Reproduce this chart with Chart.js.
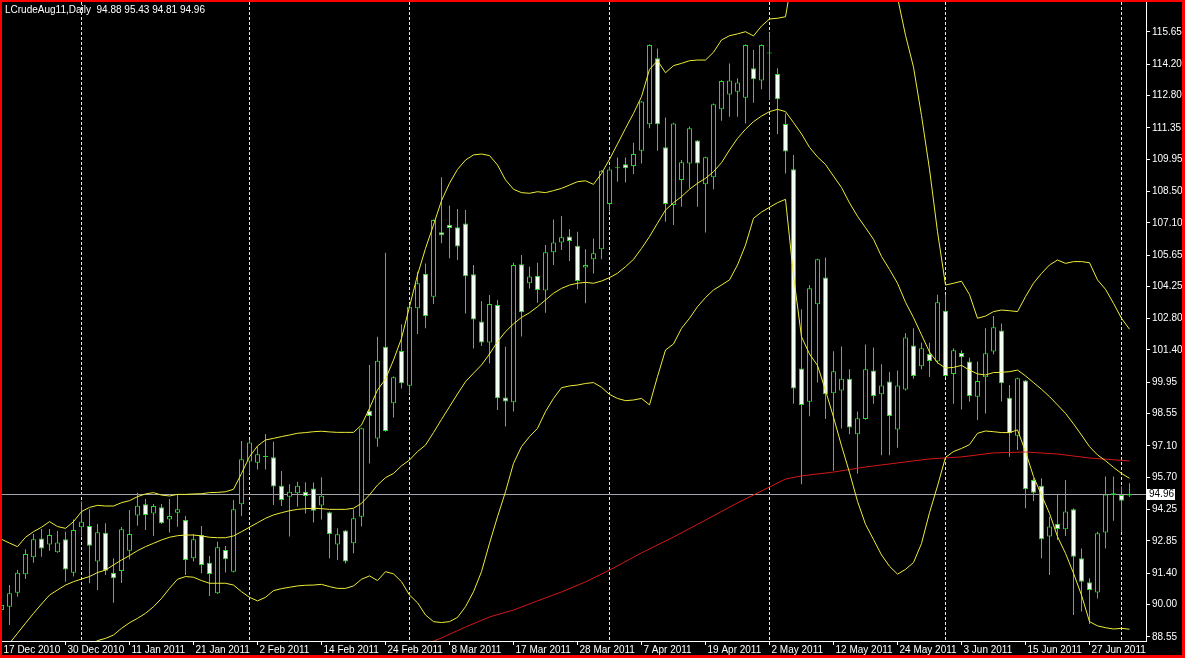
<!DOCTYPE html>
<html><head><meta charset="utf-8">
<script src="https://cdn.jsdelivr.net/npm/chart.js@4.4.1/dist/chart.umd.min.js"></script>
<style>
html,body{margin:0;padding:0;background:#000;overflow:hidden;}
canvas{display:block;}
</style></head><body>
<canvas id="c" width="1185" height="658"></canvas>
<script>
const symbolTitle = 'LCrudeAug11,Daily';

const open = [89.75,89.90,90.53,91.35,92.11,92.96,92.69,92.34,92.92,91.42,
93.46,93.52,91.92,93.21,91.42,91.50,92.41,93.98,94.49,94.08,
94.35,93.81,94.11,93.78,92.07,93.11,91.87,90.50,92.44,91.47,
94.49,96.40,96.35,96.61,96.59,95.32,94.83,94.98,95.05,95.20,
94.43,94.13,92.69,93.31,92.74,93.93,98.68,97.44,101.55,99.01,
101.36,99.80,103.27,104.81,103.79,106.67,107.01,106.90,107.07,104.79,
102.68,101.74,103.42,99.27,99.06,105.24,104.39,104.72,104.06,105.78,
106.22,106.48,106.07,105.10,105.46,105.91,107.94,109.54,109.72,109.64,
110.33,111.51,114.47,110.48,107.90,109.02,109.76,110.78,108.82,109.14,
112.18,112.85,112.97,112.70,114.02,113.47,114.68,113.77,111.53,109.50,
100.57,99.08,103.45,104.65,99.46,99.59,100.11,97.62,98.31,100.48,
99.42,99.99,97.84,99.63,101.60,100.67,101.22,100.88,103.16,100.33,
101.27,100.88,99.31,100.18,101.33,102.27,99.26,97.56,100.03,95.58,
95.32,93.04,93.61,93.37,94.26,92.07,90.99,90.54,93.22,94.98,
94.90,94.88];

const high = [90.05,90.87,91.54,92.47,93.16,93.38,93.38,93.29,93.26,93.81,
94.61,94.26,93.60,93.64,92.07,93.47,94.23,95.01,94.72,94.50,
94.50,94.72,94.95,93.96,93.16,93.52,92.17,92.81,92.62,94.68,
97.32,97.37,97.07,97.64,97.29,95.98,95.38,95.50,95.47,95.46,
95.70,94.16,93.41,93.34,94.26,97.92,100.73,101.99,105.76,100.21,
102.55,103.37,104.91,105.28,107.25,109.14,107.87,107.72,107.67,105.21,
103.60,103.86,103.64,101.55,105.31,105.66,105.13,105.31,106.10,107.25,
107.40,106.82,106.70,105.91,106.40,109.46,109.61,110.02,110.02,110.69,
112.56,115.09,114.91,111.82,111.58,109.91,111.41,110.81,110.06,112.44,
113.48,114.24,113.57,115.09,114.84,115.09,115.62,114.02,112.00,110.14,
103.23,104.31,105.49,105.54,101.34,101.56,100.54,98.65,101.65,101.51,
100.76,100.41,100.48,102.16,102.37,101.73,101.73,103.88,103.88,101.48,
101.39,101.05,100.88,102.37,102.92,102.59,99.83,100.16,100.06,95.65,
95.65,93.93,94.93,95.58,94.31,92.51,91.17,93.26,95.73,95.73,
95.28,95.43];

const low = [89.68,89.08,90.35,91.14,91.87,92.14,92.41,92.32,91.02,91.25,
93.04,90.95,90.65,91.32,90.08,90.96,92.02,93.53,93.34,93.07,
93.61,93.22,93.48,91.32,91.92,91.40,90.38,90.47,91.43,91.44,
93.96,95.88,96.05,96.05,94.46,94.41,93.04,94.38,94.08,93.67,
93.81,92.07,91.99,91.84,92.29,93.49,96.32,97.07,97.74,98.38,
99.68,99.46,102.12,102.37,103.46,106.18,105.51,105.43,103.04,101.47,
101.58,100.80,98.71,97.97,98.64,102.00,104.16,103.52,103.07,105.21,
105.88,105.39,104.12,103.49,104.83,105.46,107.60,108.94,108.90,109.28,
109.76,111.33,110.33,107.15,107.00,107.82,108.64,107.82,106.66,108.60,
111.67,111.85,111.85,111.55,112.48,113.08,112.60,111.08,109.31,98.99,
95.39,98.43,99.94,98.31,95.99,97.88,97.62,95.86,98.27,98.99,
96.68,96.68,97.02,99.59,100.11,100.54,100.19,100.79,100.19,98.99,
98.73,99.08,98.26,98.56,101.21,99.09,96.62,96.92,94.31,94.63,
92.07,91.32,92.89,93.07,89.53,89.68,89.13,90.27,92.51,93.75,
93.26,94.81];

const close = [89.98,90.50,91.42,92.26,92.92,92.51,93.11,92.78,91.57,93.34,
93.71,92.63,93.24,91.51,91.17,93.37,93.16,94.42,94.01,94.41,
93.64,93.96,94.26,91.99,92.92,91.77,91.37,92.56,92.02,94.26,
96.50,97.26,96.73,96.64,95.28,94.68,95.05,95.32,94.86,94.20,
94.87,93.16,93.14,91.92,93.86,97.89,98.44,100.92,97.77,100.18,
99.91,103.34,104.39,102.92,107.22,106.54,106.87,106.04,104.70,102.77,
101.74,103.46,99.24,99.09,105.21,103.09,104.69,104.09,105.78,106.22,
106.45,106.28,104.49,105.21,105.73,109.43,109.49,109.57,109.54,110.18,
112.53,115.06,111.51,107.94,111.55,109.81,111.33,109.76,110.03,112.41,
113.45,113.47,113.38,115.06,113.53,115.06,114.71,112.63,110.29,99.68,
98.94,104.17,105.46,99.42,100.45,100.11,97.93,98.34,100.54,99.34,
99.81,98.44,99.81,101.96,100.24,101.48,100.91,103.54,100.24,101.39,
101.08,99.34,100.01,101.25,102.42,99.91,97.67,100.13,95.16,95.01,
92.92,93.49,93.38,94.16,92.14,91.02,90.65,93.19,94.93,94.90,
94.65,94.96];

const bbUpper = [92.92,92.75,92.59,93.01,93.26,93.46,93.71,93.49,93.41,93.71,
94.16,94.35,94.44,94.41,94.41,94.56,94.65,94.83,94.95,95.01,
94.90,94.86,94.93,94.93,94.95,94.96,95.01,95.02,95.05,95.16,
95.87,96.62,97.10,97.37,97.44,97.52,97.59,97.67,97.70,97.74,
97.76,97.73,97.71,97.71,97.71,98.04,98.79,99.61,100.10,100.95,
101.92,103.34,104.76,105.95,107.00,108.09,108.87,109.49,109.91,110.14,
110.18,110.11,109.69,109.02,108.60,108.45,108.42,108.49,108.45,108.54,
108.64,108.79,108.94,108.98,108.82,109.31,109.94,110.63,111.33,112.00,
112.75,113.97,114.36,113.82,114.14,114.24,114.36,114.39,114.39,114.74,
115.29,115.48,115.56,115.66,115.47,115.91,116.23,116.26,116.33,118.4,
120.2,119.7,119.4,119.8,120.0,120.3,120.1,120.2,120.2,119.8,
119.0,118.3,117.2,115.5,114.07,111.9,109.5,106.7,104.31,104.39,
104.48,103.88,102.82,102.92,103.12,103.19,103.16,103.12,103.79,104.39,
104.83,105.21,105.43,105.28,105.36,105.36,105.31,104.54,104.12,103.49,
102.82,102.33];

const bbMiddle = [87.95,88.26,88.71,89.16,89.60,90.02,90.42,90.65,90.87,91.02,
91.14,91.25,91.43,91.54,91.77,91.99,92.19,92.41,92.59,92.74,
92.89,93.01,93.08,93.11,93.11,93.07,93.01,92.99,92.99,93.07,
93.26,93.46,93.66,93.86,94.01,94.11,94.20,94.26,94.29,94.31,
94.29,94.26,94.26,94.26,94.31,94.53,94.91,95.35,95.68,95.87,
96.21,96.47,96.85,97.14,97.70,98.29,98.86,99.43,99.98,100.36,
100.73,101.22,101.77,102.22,102.57,102.86,103.07,103.34,103.64,103.94,
104.16,104.31,104.39,104.43,104.39,104.49,104.64,104.84,105.13,105.46,
105.95,106.48,107.08,107.67,108.00,108.27,108.60,108.87,109.09,109.39,
109.79,110.36,110.88,111.29,111.63,111.88,112.08,112.18,112.08,111.59,
111.08,110.48,110.05,109.71,109.19,108.68,107.99,107.39,106.88,106.36,
105.59,105.01,104.39,103.54,102.85,102.08,101.31,100.83,100.59,100.62,
100.71,100.50,100.33,100.28,100.39,100.40,100.43,100.50,100.24,99.94,
99.64,99.31,98.94,98.56,98.09,97.59,97.07,96.70,96.44,96.14,
95.87,95.65];

const bbLower = [null,null,null,null,null,null,null,null,null,null,
null,88.15,88.38,88.48,88.63,88.93,89.18,89.38,89.60,89.90,
90.27,90.72,91.13,91.25,91.22,91.07,90.95,90.95,90.95,90.87,
90.57,90.32,90.16,90.32,90.62,90.71,90.77,90.83,90.86,90.87,
90.90,90.80,90.72,90.72,90.83,91.13,91.28,91.07,91.47,91.37,
91.02,90.42,90.08,89.53,89.23,89.19,89.23,89.42,89.90,90.57,
91.47,92.74,93.93,95.05,96.32,97.07,97.52,97.89,98.64,99.23,
99.71,99.79,99.83,99.90,99.94,99.73,99.41,99.23,99.13,99.16,
99.23,98.94,100.21,101.40,101.67,102.37,102.82,103.34,103.75,104.09,
104.31,104.54,105.21,106.10,107.30,107.58,107.79,108.00,108.15,104.74,
101.99,101.22,100.71,99.59,98.39,97.11,95.91,94.62,93.59,92.91,
92.22,91.71,91.36,91.57,91.88,92.73,94.11,95.31,96.59,96.85,
96.99,97.16,97.67,97.77,97.74,97.70,97.70,97.82,96.85,95.73,
94.90,94.08,93.04,92.29,91.40,90.42,89.23,89.04,88.96,88.90,
88.93,88.89];

const maBars   = [54,55,58,61,64,67,70,73,76,80,84,88,92,96,98,100,104,108,112,116,120,124,128,132,136,141];
const maValues = [88.36,88.50,88.99,89.44,89.75,90.16,90.56,91.01,91.54,92.31,93.02,93.78,94.55,95.26,95.62,95.76,95.93,96.16,96.34,96.52,96.61,96.79,96.83,96.74,96.56,96.43];

const xTickBars = [0,8,16,24,32,40,48,56,64,72,80,88,96,104,112,120,128,136];
const xTickLabels = ['17 Dec 2010','30 Dec 2010','11 Jan 2011','21 Jan 2011','2 Feb 2011','14 Feb 2011','24 Feb 2011','8 Mar 2011','17 Mar 2011','28 Mar 2011','7 Apr 2011','19 Apr 2011','2 May 2011','12 May 2011','24 May 2011','3 Jun 2011','15 Jun 2011','27 Jun 2011'];
const yTickValues = [115.65,114.20,112.80,111.35,109.95,108.50,107.10,105.65,104.25,102.80,101.40,99.95,98.55,97.10,95.70,94.25,92.85,91.40,90.00,88.55];
const gridBars = [10,31,51,76,96,118,140];

const GREEN = '#22dc22';
const YELLOW = '#ecec3c';
const RED = '#d01818';
const FONT = '"Liberation Sans", Arial, sans-serif';

const idx = close.map((_, i) => i);
const bull = idx.map(i => close[i] >= open[i]);
const last = close.length - 1;

const mtPlugin = {
  id: 'mt',
  beforeDraw(chart) {
    const c = chart.ctx;
    c.save(); c.fillStyle = '#000'; c.fillRect(0, 0, chart.width, chart.height); c.restore();
  },
  beforeDatasetsDraw(chart) {
    const {ctx, chartArea: a, scales: {x, y}} = chart;
    ctx.save();
    ctx.beginPath(); ctx.rect(a.left, a.top, a.right - a.left, a.bottom - a.top); ctx.clip();
    ctx.strokeStyle = '#e6e6e6'; ctx.lineWidth = 1; ctx.setLineDash([3, 2]);
    gridBars.forEach(b => {
      const px = x.getPixelForValue(b);
      ctx.beginPath(); ctx.moveTo(px, a.top); ctx.lineTo(px, a.bottom); ctx.stroke();
    });
    ctx.setLineDash([]);
    const py = Math.round(y.getPixelForValue(close[last])) + 0.5;
    ctx.strokeStyle = '#a4a4ac';
    ctx.beginPath(); ctx.moveTo(a.left, py); ctx.lineTo(a.right, py); ctx.stroke();
    ctx.restore();
  },
  afterDraw(chart) {
    const {ctx, scales: {y}, width: W, height: H} = chart;
    ctx.save();
    ctx.font = '10px ' + FONT;
    ctx.textBaseline = 'middle'; ctx.textAlign = 'left';
    ctx.fillStyle = '#ffffff';
    const ttl = symbolTitle + '  ' + [open[last], high[last], low[last], close[last]].map(v => v.toFixed(2)).join(' ');
    ctx.fillText(ttl, 5, 10);
    const ty = Math.round(y.getPixelForValue(close[last]));
    ctx.fillStyle = '#ffffff';
    ctx.fillRect(1147, ty - 5, 28, 11);
    ctx.fillStyle = '#000000';
    ctx.fillText(close[last].toFixed(2), 1149, ty + 0.5);
    ctx.fillStyle = '#ff0000';
    ctx.fillRect(0, 0, W, 2);
    ctx.fillRect(0, 0, 2, H);
    ctx.fillRect(W - 3, 0, 3, H);
    ctx.fillRect(0, H - 3, W, 3);
    ctx.restore();
  }
};

const lineDs = (label, data, color, order) => ({
  type: 'line', label, data, borderColor: color, borderWidth: 1,
  pointRadius: 0, tension: 0, fill: false, order, spanGaps: false
});

new Chart(document.getElementById('c'), {
  type: 'bar',
  data: {
    datasets: [
      lineDs('Upper', bbUpper.map((v, i) => ({x: i, y: v})), YELLOW, 0),
      lineDs('Middle', bbMiddle.map((v, i) => ({x: i, y: v})), YELLOW, 0),
      lineDs('Lower', bbLower.map((v, i) => ({x: i, y: v})), YELLOW, 0),
      lineDs('MA', maBars.map((b, k) => ({x: b, y: maValues[k]})), RED, 0),
      {
        type: 'bar', label: 'Body',
        data: idx.map(i => ({x: i, y: [open[i], close[i]]})),
        barThickness: 5, borderWidth: 1, borderColor: GREEN, borderSkipped: false,
        backgroundColor: ctx => bull[ctx.dataIndex] ? '#000000' : '#f4fff4',
        inflateAmount: 0, grouped: false, order: 1, minBarLength: 1
      },
      {
        type: 'bar', label: 'Wick',
        data: idx.map(i => ({x: i, y: [low[i], high[i]]})),
        barThickness: 1, borderWidth: 0, backgroundColor: GREEN,
        inflateAmount: 0, grouped: false, order: 2
      }
    ]
  },
  options: {
    responsive: false, animation: false, devicePixelRatio: 1, events: [],
    layout: {padding: {left: 2, top: 2, right: 2, bottom: 2}},
    plugins: {legend: {display: false}, tooltip: {enabled: false}},
    scales: {
      x: {
        type: 'linear', min: 0.0625, max: 143.0625, offset: false, bounds: 'data',
        afterBuildTicks: s => { s.ticks = xTickBars.map(v => ({value: v})); },
        afterFit: s => { s.height = 15; s.paddingLeft = 0; s.paddingRight = 0; s.paddingTop = 0; s.paddingBottom = 0; },
        grid: {display: true, drawOnChartArea: false, drawTicks: true, tickLength: 4, color: '#ffffff', offset: false},
        border: {display: true, color: '#ffffff', width: 1},
        ticks: {
          color: '#ffffff', font: {family: FONT, size: 10, lineHeight: 1}, align: 'start',
          maxRotation: 0, minRotation: 0, autoSkip: false, padding: 0, labelOffset: 2,
          callback: (v, i) => xTickLabels[i]
        }
      },
      y: {
        type: 'linear', position: 'right', min: 88.363, max: 116.99, beginAtZero: false, bounds: 'data',
        afterBuildTicks: s => { s.ticks = yTickValues.map(v => ({value: v})); },
        afterFit: s => { s.width = 37; s.paddingLeft = 0; s.paddingRight = 0; s.paddingTop = 0; s.paddingBottom = 0; },
        grid: {display: true, drawOnChartArea: false, drawTicks: true, tickLength: 4, color: '#ffffff'},
        border: {display: true, color: '#ffffff', width: 1},
        ticks: {
          color: '#ffffff', font: {family: FONT, size: 10}, padding: 2, crossAlign: 'near',
          autoSkip: false, callback: v => Number(v).toFixed(2)
        }
      }
    }
  },
  plugins: [mtPlugin]
});
</script>
</body></html>
